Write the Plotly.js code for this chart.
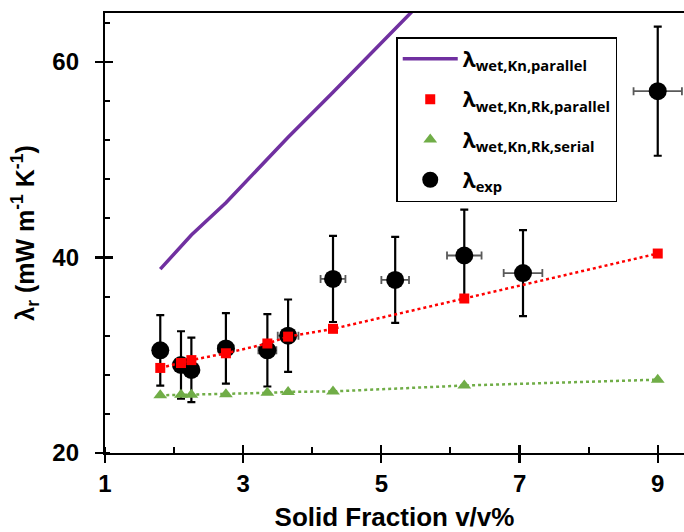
<!DOCTYPE html>
<html>
<head>
<meta charset="utf-8">
<script src="https://cdn.plot.ly/plotly-3.0.1.min.js"></script>
<style>html,body{margin:0;padding:0;background:#fff;}#chart{width:684px;height:532px;}</style>
</head>
<body>
<div id="chart"></div>
<script>
// Model x positions (solid fraction, v/v%)
const xModel = [1.8, 2.1, 2.25, 2.75, 3.35, 3.65, 4.3, 6.2, 9.0];
const xParallel = [1.8, 2.1, 2.25, 2.75, 3.35, 3.65, 4.3, 6.2];
const wetKnParallel = [38.8, 41.2, 42.3, 45.6, 50.1, 52.3, 56.9, 70.6];
const wetKnRkParallel = [28.7, 29.2, 29.5, 30.2, 31.2, 31.9, 32.7, 35.8, 40.4];
const wetKnRkSerial = [25.9, 25.95, 25.95, 26.0, 26.15, 26.25, 26.3, 26.9, 27.5];
// Experimental
const xExp = [1.8, 2.1, 2.25, 2.75, 3.35, 3.65, 4.3, 5.2, 6.2, 7.05, 9.0];
const lambdaExp = [30.5, 29.0, 28.5, 30.7, 30.5, 32.0, 37.8, 37.7, 40.2, 38.4, 57.0];
const lambdaExpErr = [3.6, 3.45, 3.3, 3.6, 3.7, 3.7, 4.4, 4.4, 4.7, 4.4, 6.6];
const xExpErr = [0.07, 0.08, 0.09, 0.11, 0.13, 0.15, 0.18, 0.2, 0.25, 0.28, 0.35];
const xTicks = [1, 3, 5, 7, 9];
const yTicks = [20, 40, 60];
const names = [
  'λ<sub>wet,Kn,parallel</sub>',
  'λ<sub>wet,Kn,Rk,parallel</sub>',
  'λ<sub>wet,Kn,Rk,serial</sub>',
  'λ<sub>exp</sub>'
];

const tickFont = {family: 'Liberation Sans, Arial, sans-serif', size: 24, color: '#000', weight: 'bold'};
const titleFont = {family: 'Liberation Sans, Arial, sans-serif', size: 25, color: '#000', weight: 'bold'};
const xTitleFont = {family: 'Liberation Sans, Arial, sans-serif', size: 26, color: '#000', weight: 'bold'};

const traces = [
  {
    x: xExp, y: lambdaExp, type: 'scatter', mode: 'markers', name: names[3], legendrank: 4, legendgroup: 'd',
    marker: {symbol: 'circle', size: 18, color: '#000'},
    error_y: {type: 'data', array: lambdaExpErr, visible: true, color: '#000', thickness: 2.2, width: 4},
    error_x: {type: 'data', array: xExpErr, visible: true, color: '#595959', thickness: 1.8, width: 4},
    cliponaxis: false
  },
  {
    x: xParallel, y: wetKnParallel, type: 'scatter', mode: 'lines', name: names[0], legendrank: 1, legendgroup: 'a',
    line: {color: '#7030A0', width: 3.5}
  },
  {
    x: xModel, y: wetKnRkParallel, type: 'scatter', mode: 'lines', name: names[1], showlegend: false,
    line: {color: '#FF0000', width: 2.5, dash: 'dot'}
  },
  {
    x: xModel, y: wetKnRkParallel, type: 'scatter', mode: 'markers', name: names[1], legendrank: 2, legendgroup: 'b',
    marker: {symbol: 'square', size: 10, color: '#FF0000'}
  },
  {
    x: xModel, y: wetKnRkSerial, type: 'scatter', mode: 'lines', name: names[2], showlegend: false,
    line: {color: '#70AD47', width: 2.5, dash: 'dot'}
  },
  {
    x: xModel, y: wetKnRkSerial, type: 'scatter', mode: 'markers', name: names[2], legendrank: 3, legendgroup: 'c',
    marker: {symbol: 'triangle-up', size: 12, color: '#70AD47'}
  },
  {
    x: [null], y: [null], xaxis: 'x2', yaxis: 'y2', type: 'scatter', mode: 'markers',
    showlegend: false, hoverinfo: 'skip'
  }
];

const xr = [1, 9.38];
const yr = [20, 65];

const layout = {
  width: 684, height: 532,
  margin: {l: 105, r: 0, t: 13, b: 79},
  paper_bgcolor: '#fff', plot_bgcolor: '#fff',
  showlegend: true,
  legend: {
    x: 0.503, y: 0.945, xanchor: 'left', yanchor: 'top',
    bgcolor: '#fff', bordercolor: '#000', borderwidth: 1.5,
    font: {family: 'Open Sans, Liberation Sans, sans-serif', size: 21, color: '#000', weight: 'bold'},
    itemwidth: 55, tracegroupgap: 10
  },
  xaxis: {
    range: xr, tickvals: xTicks, ticktext: xTicks.map(String),
    showgrid: false, zeroline: false, automargin: false,
    showline: true, linecolor: '#000', linewidth: 2.2, mirror: true,
    ticks: 'outside', ticklen: 8, tickwidth: 2.2, tickcolor: '#000',
    minor: {dtick: 1, tick0: 0, ticks: 'inside', ticklen: 6, tickwidth: 2, tickcolor: '#000', showgrid: false},
    tickfont: tickFont,
    title: {text: 'Solid Fraction v/v%', font: xTitleFont, standoff: 15}
  },
  yaxis: {
    range: yr, tickvals: yTicks, ticktext: yTicks.map(String),
    showgrid: false, zeroline: false, automargin: false,
    showline: true, linecolor: '#000', linewidth: 2.2, mirror: false,
    ticks: 'outside', ticklen: 8, tickwidth: 2.2, tickcolor: '#000',
    minor: {dtick: 4, tick0: 20, ticks: 'inside', ticklen: 5, tickwidth: 2, tickcolor: '#000', showgrid: false},
    tickfont: tickFont, ticklabelstandoff: 11,
    title: {text: 'λ<sub>r</sub> (mW m<sup>-1</sup> K<sup>-1</sup>)', font: titleFont, standoff: 11}
  },
  xaxis2: {
    overlaying: 'x', range: xr, tickvals: xTicks, showticklabels: false,
    showgrid: false, zeroline: false, showline: false,
    ticks: 'inside', ticklen: 8, tickwidth: 2.2, tickcolor: '#000', side: 'bottom'
  },
  yaxis2: {
    overlaying: 'y', range: yr, tickvals: yTicks, showticklabels: false,
    showgrid: false, zeroline: false, showline: false,
    ticks: 'inside', ticklen: 8, tickwidth: 2.2, tickcolor: '#000', side: 'left'
  }
};

Plotly.newPlot('chart', traces, layout, {displayModeBar: false, staticPlot: true});
</script>
</body>
</html>
